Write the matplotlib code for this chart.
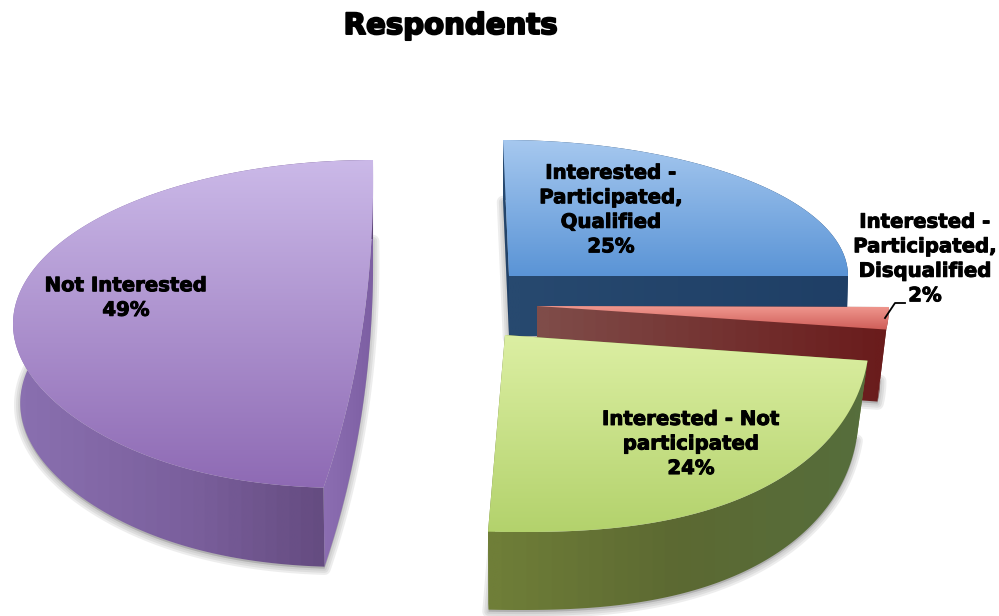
import matplotlib
matplotlib.use('Agg')
import matplotlib.pyplot as plt
import matplotlib.patheffects as pe
from matplotlib.colors import LinearSegmentedColormap
from matplotlib.patches import Polygon
import numpy as np

# Slice values, clockwise from 12 o'clock
categories = ['Interested -\nParticipated,\nQualified', 'Interested -\nParticipated,\nDisqualified',
              'Interested - Not\nparticipated', 'Not Interested']
values = [25, 2, 24, 49]

# Geometry per slice, each one has its own perspective (pixels)
centers = [(509, 276), (537, 307), (505, 327), (375, 324)]
radii = [(339, 136), (352, 180), (365, 205), (362, 164)]
apexes = [(509, 276), (537, 306), (505, 335), (376, 336)]
depths = [60, 72, 78, 79]
base_scale = [0.995, 0.975, 0.97, 0.98]
lean_top = [-6, 0, 0, -2]
lean_bottom = [0, 0, 16, -29]
roundness = [2.0, 2.0, 2.3, 2.0]
curved_edge = [False, False, False, True]

top_colors = [['#a6c8ef', '#5a94d6'], ['#f0988f', '#cf5d58'],
              ['#dcefa3', '#b3d26c'], ['#cbb9e8', '#8e6ab4']]
wall_colors = [['#27496f', '#1f3f66'], ['#7f4c49', '#6a1c1c'],
               ['#6f7e38', '#5c6932', '#566e3c'], ['#8a70b0', '#7a5f9c', '#5d4577']]
edge_colors = [['#27496f', '#1f3f66'], ['#7f4c49', '#6a1c1c'],
               ['#6f7e38', '#6f7e38'], ['#8c6eb2', '#7d5fa3']]

label_pos = [(611, 210), (925, 259), (691, 444), (126, 298)]
title = 'Respondents'


def arc_points(i, a0, a1, n=160):
    t = np.radians(np.linspace(a0, a1, n))
    s, c = np.sin(t), np.cos(t)
    e = 2.0 / roundness[i]
    cx, cy = centers[i]
    rx, ry = radii[i]
    dy = -ry * np.sign(c) * np.abs(c) ** e
    x = cx + rx * np.sign(s) * np.abs(s) ** e
    # lean the far and near ends of the ellipse
    k = np.abs(dy / ry) ** 4
    x = x + np.where(dy < 0, lean_top[i], lean_bottom[i]) * k
    return np.column_stack([x, cy + dy])


def to_base(i, pts):
    out = pts.astype(float).copy()
    cx = centers[i][0]
    out[:, 0] = cx + (out[:, 0] - cx) * base_scale[i]
    out[:, 1] += depths[i]
    return out


def fill_gradient(ax, pts, colors, vertical=True, bands=256, z=2):
    cmap = LinearSegmentedColormap.from_list('g', colors, N=bands)
    x0, x1 = pts[:, 0].min(), pts[:, 0].max()
    y0, y1 = pts[:, 1].min(), pts[:, 1].max()
    ramp = np.linspace(0, 1, 256)
    grad = ramp[:, None] if vertical else ramp[None, :]
    clip = Polygon(pts, closed=True, transform=ax.transData, fc='none', ec='none')
    ax.add_patch(clip)
    im = ax.imshow(grad, cmap=cmap, extent=[x0, x1, y1, y0], aspect='auto',
                   interpolation='bilinear', zorder=z)
    im.set_clip_path(clip)


fig = plt.figure(figsize=(9.99, 6.16), dpi=100)
ax = fig.add_axes([0, 0, 1, 1])

angles = np.cumsum([0] + values) / np.sum(values) * 360
draw_order = [3, 0, 1, 2]
z = 2
for i in draw_order:
    arc = arc_points(i, angles[i], angles[i + 1])
    apex = np.array([apexes[i]], dtype=float)
    if curved_edge[i]:
        # cut edge bows out, quadratic through the apex as control point
        u = np.linspace(0, 1, 50)[:, None]
        edge = (1 - u) ** 2 * arc[-1] + 2 * u * (1 - u) * apex + u ** 2 * arc[0]
        top = np.vstack([arc, edge])
        cut_faces = [edge]
    else:
        top = np.vstack([apex, arc])
        cut_faces = [np.vstack([apex, arc[:1]]), np.vstack([apex, arc[-1:]])]

    # soft shadow under the base
    base = to_base(i, top)
    for lw in (9, 6, 3):
        ax.add_patch(Polygon(base + [0, 2], closed=True, fc='#777777', ec='#777777',
                             lw=lw, alpha=0.13, joinstyle='round', zorder=z))
    z += 1

    for face in cut_faces:
        poly = np.vstack([face, to_base(i, face)[::-1]])
        fill_gradient(ax, poly, edge_colors[i], vertical=False, bands=30, z=z)
        z += 1
    wall = np.vstack([arc, to_base(i, arc)[::-1]])
    fill_gradient(ax, wall, wall_colors[i], vertical=False, bands=30, z=z)
    z += 1
    fill_gradient(ax, top, top_colors[i], vertical=True, z=z)
    z += 1

heavy = [pe.withStroke(linewidth=0.7, foreground='black')]
for i, name in enumerate(categories):
    ax.text(label_pos[i][0], label_pos[i][1], f'{name}\n{values[i]}%', ha='center', va='center',
            fontsize=14.2, fontweight='bold', family='DejaVu Sans', color='black',
            linespacing=1.37, path_effects=heavy, zorder=z)

# leader line for the small slice
ax.plot([885, 895, 905], [318, 303, 303], color='black', lw=1.3, zorder=z)

ax.text(450.5, 26, title, ha='center', va='center', fontsize=21, fontweight='bold',
        family='DejaVu Sans', color='black',
        path_effects=[pe.withStroke(linewidth=1.4, foreground='black')], zorder=z)

ax.set_xlim(0, 999)
ax.set_ylim(616, 0)
ax.axis('off')
plt.savefig('out.png', dpi=100)
